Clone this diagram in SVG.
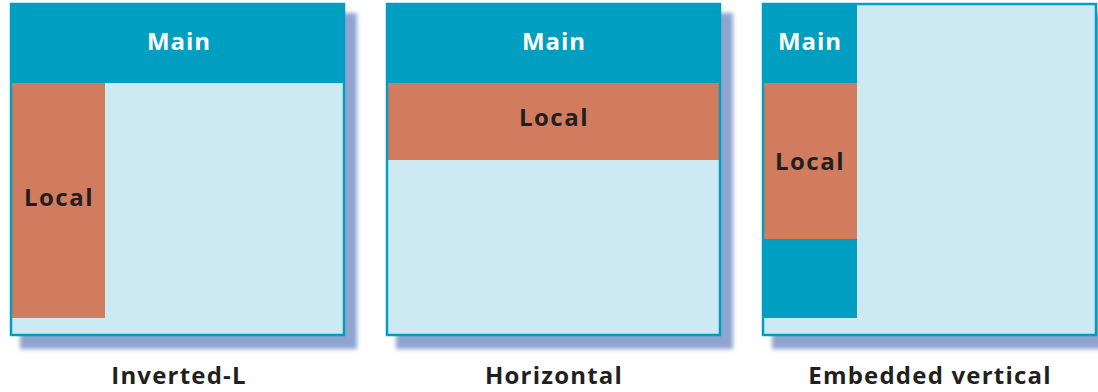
<svg xmlns="http://www.w3.org/2000/svg" width="1098" height="392" viewBox="0 0 1098 392">
<defs>
<filter id="blur" x="-10%" y="-10%" width="120%" height="120%"><feGaussianBlur stdDeviation="2"/></filter>
<style>
.shadow{fill:#8EA4CF;filter:url(#blur)}
.bg{fill:#CDEAF2}
.frame{fill:none;stroke:#009EC1;stroke-width:2.5}
.main{fill:#009EC1}
.local{fill:#D27C5F}
.t{font-family:"Open Sans","Liberation Sans",sans-serif;font-weight:bold;text-anchor:middle}
.tw{fill:#FFFFFF;font-size:24px;letter-spacing:1px}
.tl{fill:#231F20;font-size:24px;letter-spacing:1.5px}
.cap{fill:#231F20;font-size:24px;letter-spacing:1.2px}
</style>
</defs>
<rect width="1098" height="392" fill="#FFFFFF"/>
<g id="inverted-l">
<rect class="shadow" x="20" y="13" width="337" height="336"/>
<rect class="bg" x="10" y="3" width="335" height="333"/>
<rect class="main" x="10" y="3" width="335" height="80"/>
<rect class="local" x="10" y="83" width="95" height="235"/>
<rect class="frame" x="11" y="4" width="333" height="331"/>
<text class="t tw" x="179" y="50">Main</text>
<text class="t tl" x="59" y="206">Local</text>
<text class="t cap" x="179" y="384">Inverted-L</text>
</g>
<g id="horizontal">
<rect class="shadow" x="396" y="13" width="337" height="336"/>
<rect class="bg" x="386" y="3" width="335" height="333"/>
<rect class="main" x="386" y="3" width="335" height="80"/>
<rect class="local" x="386" y="83" width="335" height="77"/>
<rect class="frame" x="387" y="4" width="333" height="331"/>
<text class="t tw" x="554" y="50">Main</text>
<text class="t tl" x="554" y="126">Local</text>
<text class="t cap" x="554" y="384">Horizontal</text>
</g>
<g id="embedded-vertical">
<rect class="shadow" x="772" y="13" width="337" height="336"/>
<rect class="bg" x="762" y="3" width="335" height="333"/>
<rect class="main" x="762" y="3" width="95" height="80"/>
<rect class="local" x="762" y="83" width="95" height="156"/>
<rect class="main" x="762" y="239" width="95" height="79"/>
<rect class="frame" x="763" y="4" width="333" height="331"/>
<text class="t tw" x="810" y="50">Main</text>
<text class="t tl" x="810" y="170">Local</text>
<text class="t cap" x="930" y="384">Embedded vertical</text>
</g>
<g id="connectors"/>
</svg>
